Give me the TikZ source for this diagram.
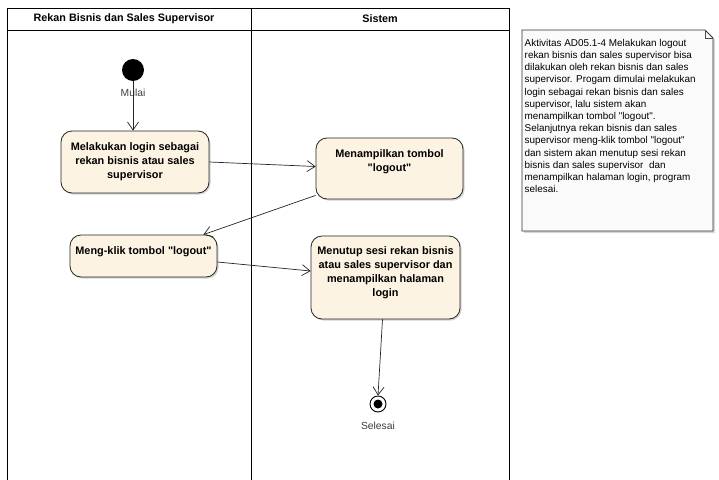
\documentclass[tikz,border=0pt]{standalone}
\usepackage{fontspec}
\setmainfont{Liberation Sans}[Ligatures=TeXOff]
\usetikzlibrary{arrows.meta,shadows}
\definecolor{actfill}{RGB}{252,243,226}
\definecolor{notefill}{RGB}{250,250,250}
\begin{document}
\begin{tikzpicture}[x=1pt,y=-1pt,
  lane/.style={draw=black,line width=0.8pt},
  head/.style={font=\fontsize{10.8}{12}\selectfont\bfseries,inner sep=0pt},
  act/.style={draw=black!85,line width=0.8pt,rounded corners=11pt,fill=actfill,
    drop shadow={shadow xshift=1.5pt,shadow yshift=-1.5pt,opacity=0.35},
    font=\fontsize{10.9}{14}\selectfont\bfseries,align=center,inner sep=2pt},
  flow/.style={draw=black!85,line width=0.7pt,-{Straight Barb[length=8pt,width=11pt]}},
  lbl/.style={font=\fontsize{10.3}{12}\selectfont,text=black!75,inner sep=0pt},
  notetext/.style={font=\fontsize{9.9}{12.2}\selectfont,align=left,inner sep=0pt,anchor=north west}
  ]
\clip (0,0) rectangle (719,479);
\fill[white] (0,0) rectangle (719,479);

% swimlanes
\draw[lane] (7,8) rectangle (509,490);
\draw[lane] (7,30) -- (509,30);
\draw[lane] (251,8) -- (251,490);
\node[head] (h1) at (124,19) {Rekan Bisnis dan Sales Supervisor};
\node[head] (h2) at (380,19) {Sistem};

% start
\node[circle,fill=black,minimum size=22pt,inner sep=0pt] (start) at (133,70) {};
\node[lbl] (mulai) at (133,93) {Mulai};

% actions
\node[act,minimum width=148pt,minimum height=62pt] (a1) at (135,162)
  {Melakukan login sebagai\\rekan bisnis atau sales\\supervisor};
\node[act,minimum width=147pt,minimum height=61pt,text depth=16pt] (a2) at (389.5,168.5)
  {Menampilkan tombol\\"logout"};
\node[act,minimum width=147pt,minimum height=42pt,text depth=10pt] (a3) at (143.5,256)
  {Meng-klik tombol "logout"};
\node[act,minimum width=149pt,minimum height=83pt,text depth=11pt] (a4) at (385.5,277.5)
  {Menutup sesi rekan bisnis\\atau sales supervisor dan\\menampilkan halaman\\login};

% final
\node[circle,draw=black,line width=0.9pt,fill=white,minimum size=16pt,inner sep=0pt,
  path picture={\fill[black] (path picture bounding box.center) circle (4.5pt);}] (fin) at (378,404) {};
\node[lbl] (selesai) at (378,426) {Selesai};

% flows
\draw[flow] (start.south) -- (a1.north -| start.south);
\draw[flow] (a1.east) -- ([yshift=2pt]a2.west);
\draw[flow] ([yshift=4pt]a2.south west) -- ([xshift=-14pt]a3.north east);
\draw[flow] ([yshift=-6pt]a3.east) -- ([yshift=6.5pt]a4.west);
\draw[flow] ([xshift=-3pt]a4.south) -- (fin.north);

% note
\draw[black!80,line width=0.8pt,fill=notefill,
  drop shadow={shadow xshift=2pt,shadow yshift=-2pt,opacity=0.3}]
  (522,30) -- (705,30) -- (713,38) -- (713,231) -- (522,231) -- cycle;
\draw[black!70,line width=0.6pt] (705,30) -- (705,38) -- (713,38);
\node[notetext] (note) at (524.5,39) {Aktivitas AD05.1-4 Melakukan logout\\
rekan bisnis dan sales supervisor bisa\\
dilakukan oleh rekan bisnis dan sales\\
supervisor. Progam dimulai melakukan\\
login sebagai rekan bisnis dan sales\\
supervisor, lalu sistem akan\\
menampilkan tombol "logout".\\
Selanjutnya rekan bisnis dan sales\\
supervisor meng-klik tombol "logout"\\
dan sistem akan menutup sesi rekan\\
bisnis dan sales supervisor\ \ dan\\
menampilkan halaman login, program\\
selesai.};
\end{tikzpicture}
\end{document}
